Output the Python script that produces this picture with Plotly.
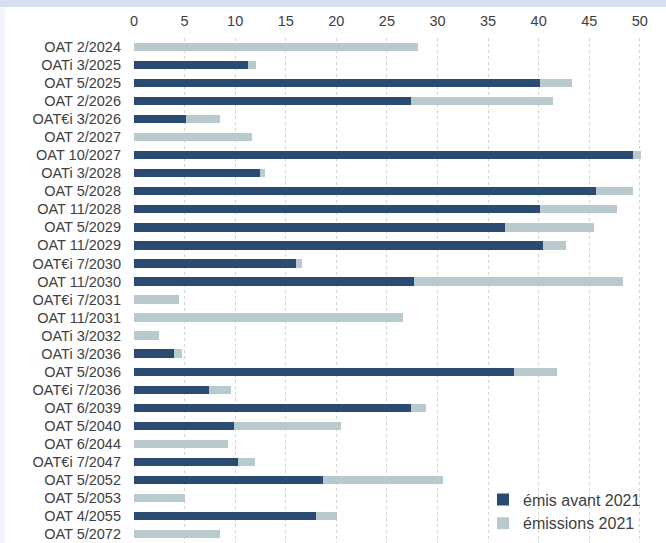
import plotly.graph_objects as go

categories = ["OAT 2/2024", "OATi 3/2025", "OAT 5/2025", "OAT 2/2026", "OAT€i 3/2026",
              "OAT 2/2027", "OAT 10/2027", "OATi 3/2028", "OAT 5/2028", "OAT 11/2028",
              "OAT 5/2029", "OAT 11/2029", "OAT€i 7/2030", "OAT 11/2030", "OAT€i 7/2031",
              "OAT 11/2031", "OATi 3/2032", "OATi 3/2036", "OAT 5/2036", "OAT€i 7/2036",
              "OAT 6/2039", "OAT 5/2040", "OAT 6/2044", "OAT€i 7/2047", "OAT 5/2052",
              "OAT 5/2053", "OAT 4/2055", "OAT 5/2072"]
emis_avant_2021 = [0, 11.3, 40.1, 27.4, 5.1, 0, 49.3, 12.5, 45.7, 40.1,
                   36.7, 40.4, 16.0, 27.7, 0, 0, 0, 4.0, 37.6, 7.4,
                   27.4, 9.9, 0, 10.3, 18.7, 0, 18.0, 0]
emissions_2021 = [28.1, 0.8, 3.2, 14.0, 3.4, 11.7, 0.8, 0.4, 3.6, 7.6,
                  8.8, 2.3, 0.6, 20.6, 4.4, 26.6, 2.5, 0.7, 4.2, 2.2,
                  1.5, 10.6, 9.3, 1.7, 11.8, 5.0, 2.1, 8.5]
x_ticks = [0, 5, 10, 15, 20, 25, 30, 35, 40, 45, 50]

DARK = "#2B4C72"
LIGHT = "#B8CACE"
TXT = "#404040"
FONT = "Liberation Sans, Arial, sans-serif"

W, H = 666, 543
ML, MR, MT, MB = 134, 11, 38, 0
PW, PH = W - ML - MR, H - MT - MB

fig = go.Figure()
fig.add_trace(go.Bar(y=categories, x=emis_avant_2021, orientation="h", name="émis avant 2021",
                     marker=dict(color=DARK, line=dict(width=0))))
fig.add_trace(go.Bar(y=categories, x=emissions_2021, orientation="h", name="émissions 2021",
                     marker=dict(color=LIGHT, line=dict(width=0))))


def px_x(p):
    return (p - ML) / PW


def px_y(p):
    return 1 - (p - MT) / PH


shapes = [
    dict(type="rect", xref="paper", yref="paper", x0=px_x(0), x1=px_x(W), y0=px_y(7), y1=px_y(0),
         fillcolor="#D5E1F1", line=dict(width=0), layer="below"),
    dict(type="rect", xref="paper", yref="paper", x0=px_x(0), x1=px_x(5), y0=px_y(H), y1=px_y(7),
         fillcolor="#F2F6FB", line=dict(width=0), layer="below"),
]

fig.update_layout(
    width=W, height=H,
    margin=dict(l=ML, r=MR, t=MT, b=MB, pad=0),
    barmode="stack", bargap=0.54,
    paper_bgcolor="white", plot_bgcolor="white",
    font=dict(family=FONT, size=14.5, color=TXT),
    shapes=shapes,
    xaxis=dict(side="top", range=[0, 51.5], tickvals=x_ticks, ticktext=[str(v) for v in x_ticks],
               showgrid=True, gridcolor="#D3D3D3", griddash="3px,3px", gridwidth=1,
               zeroline=False, showline=False, ticks="", tickfont=dict(size=14.5, color=TXT),
               ticklabelstandoff=8, fixedrange=True),
    yaxis=dict(autorange="reversed", showgrid=False, zeroline=False, showline=False, ticks="",
               ticklabelstandoff=12, tickfont=dict(size=14.5, color=TXT), fixedrange=True),
    legend=dict(x=1 - 9 / PW, xanchor="right", y=0.005, yanchor="bottom", bgcolor="rgba(0,0,0,0)",
                font=dict(size=16, color=TXT), traceorder="normal", tracegroupgap=0,
                itemwidth=30),
)

fig.write_html("out.html")
